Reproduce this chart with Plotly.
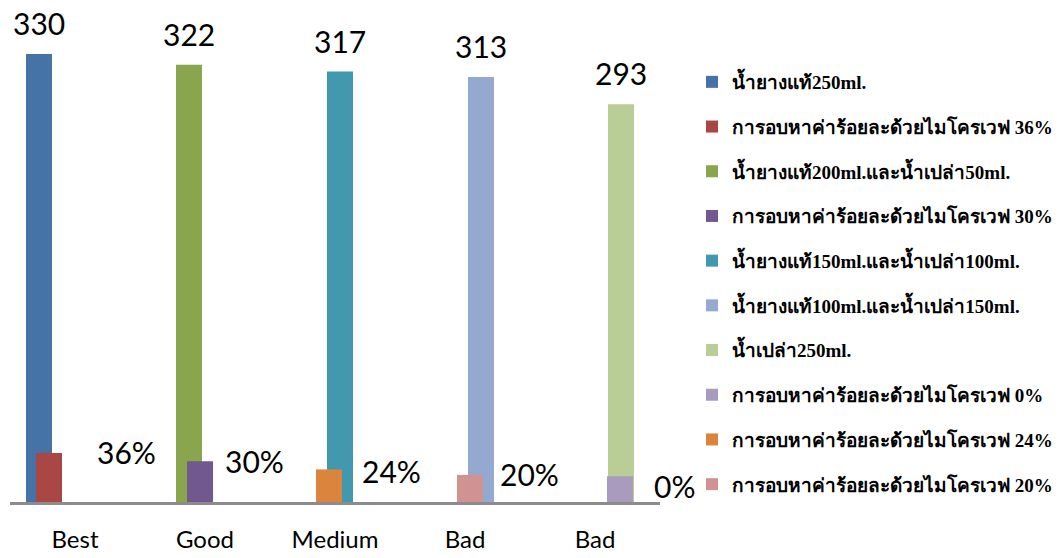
import plotly.graph_objects as go

# ---- data ----
categories = ["Best", "Good", "Medium", "Bad", "Bad"]

tall_names = [
    "น้ำยางแท้250ml.",
    "น้ำยางแท้200ml.และน้ำเปล่า50ml.",
    "น้ำยางแท้150ml.และน้ำเปล่า100ml.",
    "น้ำยางแท้100ml.และน้ำเปล่า150ml.",
    "น้ำเปล่า250ml.",
]
tall_values = [330, 322, 317, 313, 293]

small_names = [
    "การอบหาค่าร้อยละด้วยไมโครเวฟ 36%",
    "การอบหาค่าร้อยละด้วยไมโครเวฟ 30%",
    "การอบหาค่าร้อยละด้วยไมโครเวฟ 24%",
    "การอบหาค่าร้อยละด้วยไมโครเวฟ 20%",
    "การอบหาค่าร้อยละด้วยไมโครเวฟ 0%",
]
small_values = [36, 30, 24, 20, 19]
small_labels = ["36%", "30%", "24%", "20%", "0%"]

# ---- styles / positions ----
tall_colors = ["#4572A7", "#89A54E", "#4198AF", "#93A9CF", "#B9CD96"]
small_colors = ["#AA4643", "#71588F", "#DB843D", "#D19392", "#A99BBD"]
tall_rank = [1, 3, 5, 6, 7]
small_rank = [2, 4, 9, 10, 8]
bar_w = 0.2
tall_offset = [-0.377, -0.223, -0.0615, 0.023, 0.1]
small_offset = [-0.300, -0.138, -0.146, -0.0615, 0.092]
label_dx = [0.154, 0.138, 0.192, 0.254, 0.438]
label_dy = [1, 0, -2, 1, -10]

num_font = dict(family="Lato, 'Open Sans', sans-serif", size=30, color="#000000")

fig = go.Figure()

for i, (name, val) in enumerate(zip(tall_names, tall_values)):
    fig.add_trace(go.Bar(
        x=[i], y=[val], name=name, width=bar_w, offset=tall_offset[i],
        marker=dict(color=tall_colors[i], line=dict(width=0)),
        legendgroup=f"g{tall_rank[i]:02d}", legendrank=tall_rank[i], hoverinfo="skip",
    ))
    fig.add_annotation(
        x=i + tall_offset[i] + bar_w / 2, y=val, text=str(val),
        showarrow=False, yanchor="middle", yshift=31, font=num_font,
    )

for i, (name, val) in enumerate(zip(small_names, small_values)):
    fig.add_trace(go.Bar(
        x=[i], y=[val], name=name, width=bar_w, offset=small_offset[i],
        marker=dict(color=small_colors[i], line=dict(width=0)),
        legendgroup=f"g{small_rank[i]:02d}", legendrank=small_rank[i], hoverinfo="skip",
    ))
    fig.add_annotation(
        x=i + label_dx[i], y=val, text=small_labels[i],
        showarrow=False, xanchor="left", yanchor="middle", yshift=label_dy[i],
        font=num_font,
    )

fig.update_layout(
    width=1061, height=558,
    margin=dict(l=10, r=401, t=20, b=56, autoexpand=False),
    paper_bgcolor="white", plot_bgcolor="white",
    barmode="overlay",
    showlegend=True,
    legend=dict(
        xref="container", yref="container",
        x=692 / 1061, y=1 - 63 / 558, xanchor="left", yanchor="top",
        font=dict(family="'Liberation Serif', 'Times New Roman', serif", size=19,
                  color="#000000", weight="bold"),
        tracegroupgap=17, traceorder="grouped", bgcolor="rgba(0,0,0,0)",
        maxheight=1.0,
    ),
    xaxis=dict(
        range=[-0.5, 4.5], tickmode="array", tickvals=list(range(len(categories))),
        ticktext=categories, showline=True, linecolor="#8c8c8c", linewidth=3,
        showgrid=False, zeroline=False, ticks="", automargin=False,
        tickfont=dict(family="Lato, 'Open Sans', sans-serif", size=24, color="#000000"),
        ticklabelstandoff=14,
    ),
    yaxis=dict(range=[0, 355], visible=False, showgrid=False, zeroline=False),
)

fig.write_html("out.html")
